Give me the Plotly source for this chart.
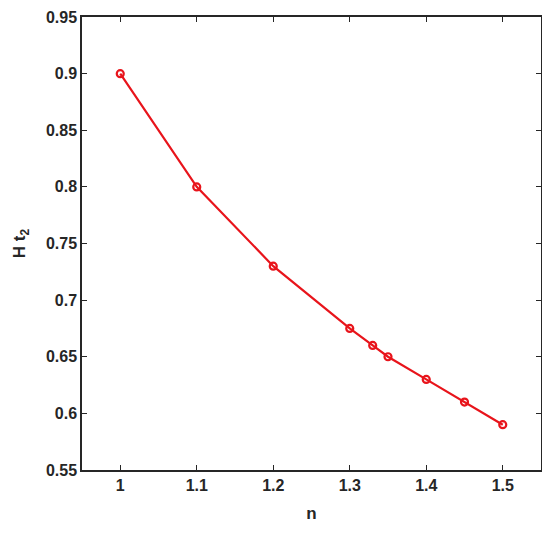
import plotly.graph_objects as go

n_vals = [1.0, 1.1, 1.2, 1.3, 1.33, 1.35, 1.4, 1.45, 1.5]
ht2_vals = [0.9, 0.8, 0.73, 0.675, 0.66, 0.65, 0.63, 0.61, 0.59]
x_ticks = [1, 1.1, 1.2, 1.3, 1.4, 1.5]
x_tick_labels = ["1", "1.1", "1.2", "1.3", "1.4", "1.5"]
y_ticks = [0.55, 0.6, 0.65, 0.7, 0.75, 0.8, 0.85, 0.9, 0.95]
y_tick_labels = ["0.55", "0.6", "0.65", "0.7", "0.75", "0.8", "0.85", "0.9", "0.95"]

fig = go.Figure()
fig.add_trace(go.Scatter(
    x=n_vals, y=ht2_vals, mode="lines+markers",
    line=dict(color="#e8141b", width=2.2),
    marker=dict(symbol="circle-open", size=7, color="#e8141b", line=dict(width=2.2)),
    showlegend=False,
))

axis_common = dict(
    showline=True, linecolor="#262626", linewidth=1.5, mirror="ticks",
    ticks="inside", ticklen=5, tickwidth=1.2, tickcolor="#262626",
    showgrid=False, zeroline=False, automargin=False,
    ticklabeloverflow="allow",
    tickfont=dict(family="Liberation Sans, Arial, sans-serif", size=16, color="#262626"),
)

fig.update_layout(
    width=542, height=526,
    margin=dict(l=74, r=9, t=9, b=64),
    paper_bgcolor="white", plot_bgcolor="white",
    font=dict(family="Liberation Sans, Arial, sans-serif", color="#262626"),
    xaxis=dict(range=[0.95, 1.55], tickvals=x_ticks,
               ticktext=["<b>%s</b>" % t for t in x_tick_labels],
               title=dict(text="<b>n</b>", font=dict(size=17), standoff=14),
               **axis_common),
    yaxis=dict(range=[0.55, 0.95], tickvals=y_ticks,
               ticktext=["<b>%s</b>" % t for t in y_tick_labels],
               title=dict(text="<b>H t<sub>2</sub></b>", font=dict(size=17), standoff=16),
               **axis_common),
)

fig.write_html("out.html")
